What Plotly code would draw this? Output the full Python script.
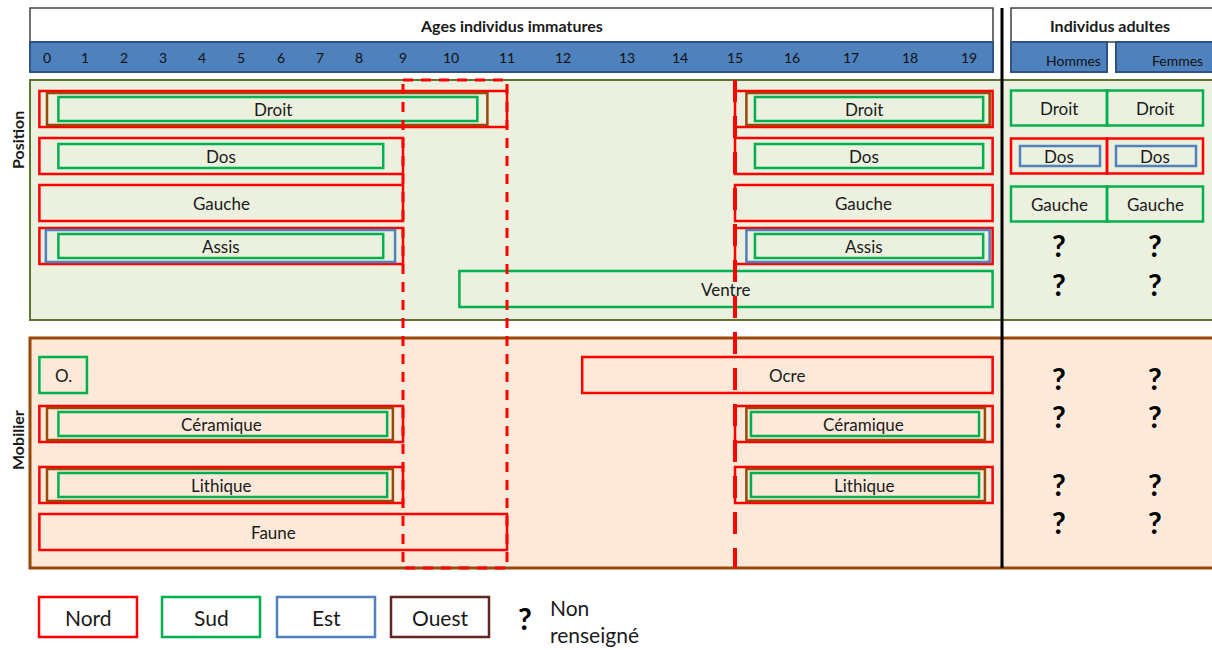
import numpy as np
import plotly.graph_objects as go

# --- data -------------------------------------------------------------
ages = list(range(20))

regions = ["Nord", "Sud", "Est", "Ouest"]
region_colors = {"Nord": "#FF0000", "Sud": "#00B050", "Est": "#4F81BD", "Ouest": "#984807"}

# labelled groups of nested boxes (outermost box first)
grp_label = ["Droit", "Droit", "Dos", "Dos", "Gauche", "Gauche", "Assis", "Assis", "Ventre",
             "O.", "Ocre", "Céramique", "Céramique", "Lithique", "Lithique", "Faune"]
grp_row = ["Droit", "Droit", "Dos", "Dos", "Gauche", "Gauche", "Assis", "Assis", "Ventre",
           "Ocre", "Ocre", "Céramique", "Céramique", "Lithique", "Lithique", "Faune"]

box_grp = [0, 0, 0, 1, 1, 1, 2, 2, 3, 3, 4, 5, 6, 6, 6, 7, 7, 7, 8,
           9, 10, 11, 11, 11, 12, 12, 12, 13, 13, 13, 14, 14, 14, 15]
box_region = ["Nord", "Ouest", "Sud", "Nord", "Ouest", "Sud",
              "Nord", "Sud", "Nord", "Sud",
              "Nord", "Nord",
              "Nord", "Est", "Sud", "Nord", "Est", "Sud",
              "Sud",
              "Sud", "Nord",
              "Nord", "Ouest", "Sud", "Nord", "Ouest", "Sud",
              "Nord", "Ouest", "Sud", "Nord", "Ouest", "Sud",
              "Nord"]
box_start = [-0.2, 0.0, 0.3, 15.0, 15.2, 15.35,
             -0.2, 0.3, 15.0, 15.35,
             -0.2, 15.0,
             -0.2, -0.03, 0.3, 15.0, 15.2, 15.35,
             10.15,
             -0.2, 12.3,
             -0.2, 0.0, 0.3, 15.0, 15.2, 15.28,
             -0.2, 0.0, 0.3, 15.0, 15.2, 15.28,
             -0.2]
box_end = [11.0, 10.65, 10.47, 19.4, 19.35, 19.24,
           9.0, 8.55, 19.4, 19.24,
           9.0, 19.4,
           9.0, 8.82, 8.55, 19.4, 19.35, 19.24,
           19.4,
           1.05, 19.4,
           9.0, 8.77, 8.64, 19.4, 19.27, 19.17,
           9.0, 8.77, 8.64, 19.4, 19.27, 19.17,
           11.0]

# highlighted age windows
dash_window = [9, 11]
dash_line_age = 15

# adult individuals
adult_cols = ["Hommes", "Femmes"]
adult_rows = ["Droit", "Dos", "Gauche", "Assis", "Ventre", "Ocre", "Céramique", "Lithique", "Faune"]
adult_outer = ["Sud", "Nord", "Sud", None, None, None, None, None, None]
adult_inner = [None, "Est", None, None, None, None, None, None, None]

# --- layout helpers ---------------------------------------------------
tick_px = [47, 85, 124, 163, 202, 241, 281, 320, 359, 403, 451, 507, 563, 627, 680, 735, 792, 851, 910, 969]
knot_age = [-1] + ages + [20]
knot_px = [9] + tick_px + [1028]


def to_px(a):
    return float(np.interp(a, knot_age, knot_px))


row_y = {"Droit": 109, "Dos": 156, "Gauche": 203, "Assis": 246, "Ventre": 289,
         "Ocre": 375, "Céramique": 424, "Lithique": 485, "Faune": 532}
adult_y = {"Droit": 108, "Dos": 156, "Gauche": 204, "Assis": 245, "Ventre": 284,
           "Ocre": 378, "Céramique": 416, "Lithique": 484, "Faune": 522}
inner_half = {"Nord": 18, "Ouest": 16, "Est": 16, "Sud": 12}
adult_x = {"Hommes": (1011, 1107), "Femmes": (1107, 1203)}

FONT = "Lato, 'Open Sans', sans-serif"

fig = go.Figure()
fig.add_trace(go.Scatter(x=[0], y=[0], mode="markers", marker=dict(opacity=0),
                         hoverinfo="skip", showlegend=False))


def rect(x0, x1, y0, y1, color, width=2.5, fill="rgba(0,0,0,0)", dash="solid"):
    fig.add_shape(type="rect", x0=x0, x1=x1, y0=y0, y1=y1, xref="x", yref="y",
                  line=dict(color=color, width=width, dash=dash), fillcolor=fill)


def text(x, y, s, size=16, bold=False, color="#1a1a1a", angle=0, xanchor="center"):
    if bold:
        s = "<b>" + s + "</b>"
    fig.add_annotation(x=x, y=y, text=s, showarrow=False, xref="x", yref="y",
                       xanchor=xanchor, yanchor="middle", textangle=angle,
                       font=dict(family=FONT, size=size, color=color))


# header
rect(30, 993, 8, 42, "#404040", width=1.5, fill="white")
rect(30, 993, 42, 72, "#2F5483", width=2, fill="#4F81BD")
text((30 + 993) / 2, 25, "Ages individus immatures", size=16, bold=True)
for a in ages:
    text(to_px(a), 57, str(a), size=14, color="#111")
rect(1011, 1215, 8, 42, "#404040", width=1.5, fill="white")
text(1110, 25, "Individus adultes", size=16, bold=True)
rect(1011, 1107, 42, 72, "#2F5483", width=2, fill="#4F81BD")
rect(1116, 1215, 42, 72, "#2F5483", width=2, fill="#4F81BD")
text(1073, 60, "Hommes", size=14, color="#111")
text(1177, 60, "Femmes", size=14, color="#111")

# panels
rect(30, 1216, 80, 320, "#5E7236", width=2, fill="#EBF1DE")
rect(30, 1216, 338, 568, "#984807", width=3, fill="#FDE9D9")
text(17, 140, "Position", size=16, bold=True, angle=-90)
text(17, 440, "Mobilier", size=16, bold=True, angle=-90)

# nested boxes
first_in_grp = set()
for i, g in enumerate(box_grp):
    yc = row_y[grp_row[g]]
    if g not in first_in_grp:
        first_in_grp.add(g)
        h = 18
    else:
        h = inner_half[box_region[i]]
    rect(to_px(box_start[i]), to_px(box_end[i]), yc - h, yc + h, region_colors[box_region[i]])
for g, lab in enumerate(grp_label):
    idx = [i for i, b in enumerate(box_grp) if b == g][0]
    xc = (to_px(box_start[idx]) + to_px(box_end[idx])) / 2
    text(xc, row_y[grp_row[g]], lab, size=17)

# adult cells
for r, outer, inner in zip(adult_rows, adult_outer, adult_inner):
    yc = adult_y[r]
    for c in adult_cols:
        x0, x1 = adult_x[c]
        if outer is None:
            text((x0 + x1) / 2, yc, "?", size=30, bold=True, color="black")
            continue
        rect(x0, x1, yc - 17.5, yc + 17.5, region_colors[outer])
        if inner is not None:
            rect(x0 + 9, x1 - 7, yc - 10, yc + 10, region_colors[inner])
        text((x0 + x1) / 2, yc, r, size=17)

# dashed age markers and separator
rect(to_px(dash_window[0]), to_px(dash_window[1]), 80, 568, "#FF0000", width=3, dash="10px,8px")
fig.add_shape(type="line", x0=to_px(dash_line_age), x1=to_px(dash_line_age), y0=80, y1=568,
              xref="x", yref="y", line=dict(color="#FF0000", width=4, dash="22px,14px"))
fig.add_shape(type="line", x0=1002, x1=1002, y0=8, y1=568, xref="x", yref="y",
              line=dict(color="black", width=3))

# legend
legend_x = [39, 162, 277, 391]
legend_colors = {"Nord": "#FF0000", "Sud": "#00B050", "Est": "#4F81BD", "Ouest": "#632523"}
for reg, x0 in zip(regions, legend_x):
    rect(x0, x0 + 98, 597, 637, legend_colors[reg])
    text(x0 + 49, 617, reg, size=21)
text(525, 618, "?", size=30, bold=True, color="black")
text(548, 607, "Non", size=21, xanchor="left")
text(548, 634, "renseigné", size=21, xanchor="left")

fig.update_layout(
    width=1212, height=650,
    margin=dict(l=0, r=0, t=0, b=0),
    paper_bgcolor="white", plot_bgcolor="white",
    xaxis=dict(range=[0, 1212], visible=False, fixedrange=True),
    yaxis=dict(range=[650, 0], visible=False, fixedrange=True),
    showlegend=False,
)

# drop the default page margin so the figure sits at the window's top-left corner
fig.write_html("out.html", config={"displayModeBar": False},
               post_script="document.body.style.margin='0';document.body.style.overflow='hidden';")
